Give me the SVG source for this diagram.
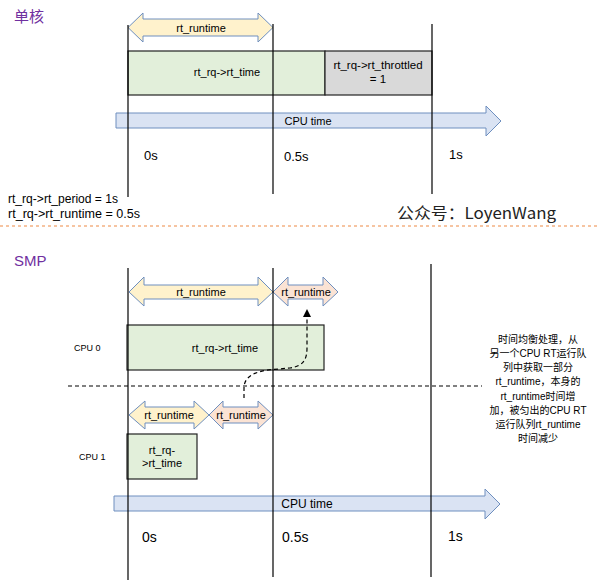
<svg xmlns="http://www.w3.org/2000/svg" width="599" height="581" viewBox="0 0 599 581">
<defs>
<style>
.t{font-family:"Liberation Sans","Noto Sans CJK SC",sans-serif;fill:#000;}
.title{font-family:"Noto Sans CJK SC","Liberation Sans",sans-serif;fill:#7030A0;font-size:15px;}
.vl{stroke:#000;stroke-width:1.2;fill:none;}
.box{stroke:#222;stroke-width:1.2;}
.arr{stroke:#6E8FBF;stroke-width:1;}
.yl{fill:#FFF2CC;}
.or{fill:#FBE3D4;}
.cpu{fill:#DAE3F3;}
.green{fill:#E2EFDA;}
.gray{fill:#D9D9D9;}
.c{text-anchor:middle;}
</style>
<marker id="ah" markerWidth="8" markerHeight="8" refX="4" refY="4" orient="auto" markerUnits="userSpaceOnUse">
<path d="M0,0 L8,4 L0,8 Z" fill="#000"/>
</marker>
</defs>
<rect width="599" height="581" fill="#fff"/>

<g id="single-core">
<text class="title" x="14" y="22">单核</text>
<g id="top-cputime">
<path class="arr cpu" d="M116,113 L486,113 L486,106 L501,121 L486,136 L486,128 L116,128 Z"/>
<text class="t" x="308" y="125" font-size="11" text-anchor="middle">CPU time</text>
</g>
<g id="top-runtime">
<path class="arr yl" d="M128,27.5 L143,13 L143,19 L258,19 L258,13 L273,27.5 L258,42 L258,36 L143,36 L143,42 Z"/>
<text class="t c" x="201" y="31.5" font-size="11">rt_runtime</text>
</g>
<g id="top-rttime">
<rect class="box green" x="128" y="51" width="197" height="44"/>
<text class="t c" x="227" y="76" font-size="11">rt_rq-&gt;rt_time</text>
</g>
<g id="top-throttled">
<rect class="box gray" x="325" y="51" width="107" height="44"/>
<text class="t c" x="378" y="69" font-size="11.5">rt_rq-&gt;rt_throttled</text>
<text class="t c" x="378" y="83" font-size="11.5">= 1</text>
</g>
<g id="top-lines">
<line class="vl" x1="128" y1="25" x2="128" y2="197"/>
<line class="vl" x1="273" y1="24" x2="273" y2="194"/>
<line class="vl" x1="432" y1="24" x2="432" y2="194"/>
</g>
<text class="t" x="144" y="160" font-size="13">0s</text>
<text class="t" x="284" y="161" font-size="13">0.5s</text>
<text class="t" x="449" y="159" font-size="13">1s</text>
<text class="t" x="8" y="203" font-size="12" textLength="110" lengthAdjust="spacingAndGlyphs">rt_rq-&gt;rt_period = 1s</text>
<text class="t" x="8" y="218" font-size="12" textLength="132" lengthAdjust="spacingAndGlyphs">rt_rq-&gt;rt_runtime = 0.5s</text>
<text x="397" y="219" font-size="16" font-family="Noto Sans CJK SC, Liberation Sans, sans-serif" fill="#222" textLength="159" lengthAdjust="spacingAndGlyphs">公众号：LoyenWang</text>
</g>

<line x1="0" y1="226" x2="599" y2="226" stroke="#F4B183" stroke-width="1.5" stroke-dasharray="3,3"/>

<g id="smp">
<text class="title" x="14" y="266" font-size="13" style="font-family:'Liberation Sans',sans-serif">SMP</text>
<g id="smp-cputime">
<path class="arr cpu" d="M114,496 L485,496 L485,489 L500,504 L485,519 L485,511 L114,511 Z"/>
<text class="t c" x="307" y="508" font-size="12">CPU time</text>
</g>
<g id="cpu0">
<text class="t" x="74" y="351" font-size="9">CPU 0</text>
<path class="arr yl" d="M129,292 L144,277 L144,285 L258,285 L258,277 L273,292 L258,306 L258,299 L144,299 L144,306 Z"/>
<text class="t c" x="201" y="296" font-size="11">rt_runtime</text>
<path class="arr or" d="M273,292 L288,277 L288,285 L323,285 L323,277 L338,292 L323,306 L323,299 L288,299 L288,306 Z"/>
<text class="t c" x="306" y="296" font-size="11">rt_runtime</text>
<rect class="box green" x="127" y="325" width="197" height="45"/>
<text class="t c" x="225" y="352" font-size="11">rt_rq-&gt;rt_time</text>
</g>
<g id="cpu1">
<text class="t" x="79" y="460" font-size="9">CPU 1</text>
<path class="arr yl" d="M129,415 L145,401 L145,407 L194,407 L194,401 L209,415 L194,429 L194,423 L145,423 L145,429 Z"/>
<text class="t c" x="169" y="419" font-size="11">rt_runtime</text>
<path class="arr or" d="M209,415 L223,401 L223,407 L258,407 L258,401 L273,415 L258,429 L258,423 L223,423 L223,429 Z"/>
<text class="t c" x="241" y="419" font-size="11">rt_runtime</text>
<rect class="box green" x="127" y="434" width="70" height="45"/>
<text class="t c" x="162" y="454" font-size="11">rt_rq-</text>
<text class="t c" x="162" y="467" font-size="11">&gt;rt_time</text>
</g>
<line x1="68" y1="386" x2="482" y2="386" stroke="#808080" stroke-width="2" stroke-dasharray="4,3"/>
<g id="connectors">
<path d="M244,398 L244,388 C244,377 254,371 273,369.5 L290,368 C303,366 307,360 307,348 L307,313" fill="none" stroke="#000" stroke-width="1.2" stroke-dasharray="4,3" marker-end="url(#ah)"/>
</g>
<g id="smp-lines">
<line class="vl" x1="128" y1="268" x2="128" y2="580"/>
<line class="vl" x1="273" y1="268" x2="273" y2="577"/>
<line class="vl" x1="431" y1="264" x2="431" y2="577"/>
</g>
<text class="t" x="142" y="542" font-size="14">0s</text>
<text class="t" x="282" y="542" font-size="14">0.5s</text>
<text class="t" x="448" y="541" font-size="14">1s</text>
<g id="note" font-size="10" class="t" text-anchor="middle" font-family="Liberation Sans, Noto Sans CJK SC, sans-serif">
<text x="538" y="343">时间均衡处理，从</text>
<text x="538" y="357">另一个CPU RT运行队</text>
<text x="538" y="371">列中获取一部分</text>
<text x="538" y="385">rt_runtime，本身的</text>
<text x="538" y="400">rt_runtime时间增</text>
<text x="538" y="414">加，被匀出的CPU RT</text>
<text x="538" y="428">运行队列rt_runtime</text>
<text x="538" y="442">时间减少</text>
</g>
</g>
</svg>
